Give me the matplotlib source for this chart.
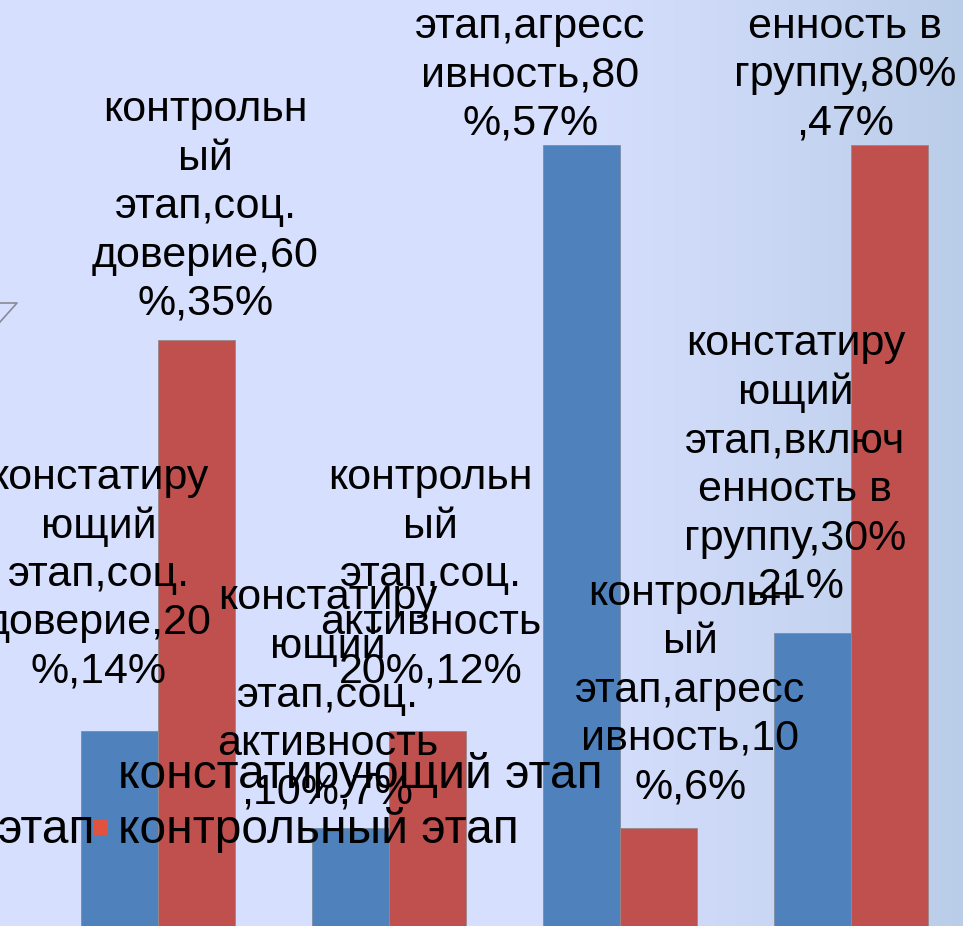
import matplotlib
matplotlib.use("Agg")
import matplotlib.pyplot as plt
import numpy as np
from matplotlib.patches import Rectangle
from matplotlib.lines import Line2D

plt.rcParams['font.family'] = ['Liberation Sans', 'DejaVu Sans']

# data
categories = ["соц. доверие", "соц. активность", "агрессивность", "включенность в группу"]
series_names = ["констатирующий этап", "контрольный этап"]
ascertaining = [20, 10, 80, 30]
control = [60, 20, 10, 80]

labels_ascertaining = [
    "констатиру\nющий\nэтап,соц.\nдоверие,20\n%,14%",
    "констатиру\nющий\nэтап,соц.\nактивность\n,10%,7%",
    "констатиру\nющий\nэтап,агресс\nивность,80\n%,57%",
    "констатиру\nющий\nэтап,включ\nенность в\nгруппу,30%\n,21%",
]
labels_control = [
    "контрольн\nый\nэтап,соц.\nдоверие,60\n%,35%",
    "контрольн\nый\nэтап,соц.\nактивность\n20%,12%",
    "контрольн\nый\nэтап,агресс\nивность,10\n%,6%",
    "контрольн\nый\nэтап,включ\nенность в\nгруппу,80%\n,47%",
]
# label offsets from the bar top, pixels
offs_ascertaining = [(-21, 48), (-23, 25), (-51, 10), (-17, 35)]
offs_control = [(9, 25), (3, 48), (32, 30), (-44, 10)]

W, H = 963, 926
fig = plt.figure(figsize=(W / 100, H / 100), dpi=100)

# background gradient
bg = fig.add_axes([0, 0, 1, 1], zorder=-1)
xs = np.linspace(0, 1, W)
ys = np.linspace(0, 1, H)
X, Y = np.meshgrid(xs, ys)
left = np.array([214, 223, 254]) / 255
right = np.array([186, 205, 232]) / 255
t = np.clip((X * W - 540) / (W - 540), 0, 1) ** 1.3
img = left[None, None, :] * (1 - t[..., None]) + right[None, None, :] * t[..., None]
bg.imshow(img, aspect="auto", extent=[0, 1, 0, 1], interpolation="nearest")
bg.axis("off")

ax = fig.add_axes([0, 0, 1, 1])
ax.patch.set_alpha(0)
x = np.arange(len(categories))
w = 1 / 3
ax.bar(x - w / 2, ascertaining, w, color="#4F81BD", edgecolor="#7d8da0", linewidth=0.6)
ax.bar(x + w / 2, control, w, color="#C0504D", edgecolor="#9a8888", linewidth=0.6)
ax.set_xlim(-0.684, 3.485)
ax.set_ylim(0, 94.8)
ax.axis("off")

fs = 31
ls = 1.27
for xi, v, txt, (dx, dy) in zip(x - w / 2, ascertaining, labels_ascertaining, offs_ascertaining):
    ax.annotate(txt, xy=(xi, v), xytext=(dx, dy), textcoords="offset pixels",
                ha="center", va="baseline", multialignment="center",
                fontsize=fs, linespacing=ls, color="black")
for xi, v, txt, (dx, dy) in zip(x + w / 2, control, labels_control, offs_control):
    ax.annotate(txt, xy=(xi, v), xytext=(dx, dy), textcoords="offset pixels",
                ha="center", va="baseline", multialignment="center",
                fontsize=fs, linespacing=ls, color="black")

# legend (cut off, as in the picture)
lfs = 34.5
fig.text(118 / W, 1 - 788 / H, series_names[0], ha="left", va="baseline", fontsize=lfs)
fig.text(118 / W, 1 - 843 / H, series_names[1], ha="left", va="baseline", fontsize=lfs)
fig.text(95 / W, 1 - 843 / H, "этап", ha="right", va="baseline", fontsize=lfs)
fig.add_artist(Rectangle((93 / W, 1 - 783 / H), 15 / W, 15 / H, transform=fig.transFigure,
                         facecolor="#4F81BD", edgecolor="none"))
fig.add_artist(Rectangle((93 / W, 1 - 835 / H), 15 / W, 15 / H, transform=fig.transFigure,
                         facecolor="#E0533F", edgecolor="none"))

# bit of a shape at the left edge
fig.add_artist(Line2D([0, 17 / W, 0], [1 - 303 / H, 1 - 303 / H, 1 - 322 / H],
                      transform=fig.transFigure, color="#8a8a95", linewidth=1.2))

fig.savefig("out.png", dpi=100)
